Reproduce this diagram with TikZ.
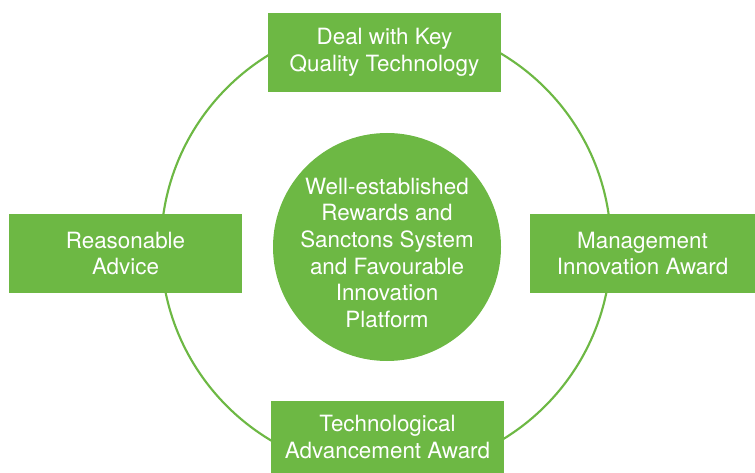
\documentclass[tikz,border=0pt]{standalone}
\usepackage{fontspec}
\setmainfont{TeX Gyre Heros}
\usepackage{xcolor}
\usepackage{tikz}
\usetikzlibrary{positioning, backgrounds}
\definecolor{leafgreen}{HTML}{6DB844}

\begin{document}
\begin{tikzpicture}[
  x=0.75pt, y=-0.75pt,
  every node/.style={text=white, font=\fontsize{16.8}{20}\selectfont, align=center, inner sep=0pt},
  awardbox/.style={rectangle, fill=leafgreen, minimum width=174.75pt, minimum height=59.25pt},
  hubdisc/.style={circle, fill=leafgreen, minimum size=171pt},
  ringline/.style={draw=leafgreen, line width=1.6pt}
]
  \useasboundingbox (0,0) rectangle (755,473);
  % outer ring behind everything
  \coordinate (ringc) at (386,247);
  \draw[ringline] (ringc) circle[radius=168.75pt];

  \node[hubdisc] (hub) at (387,247) {};
  \node (hubtext) at (387,253) {Well-established\\Rewards and\\Sanctons System\\and Favourable\\Innovation\\Platform};

  \node[awardbox] (quality) at (384.5,52.5) {Deal with Key\\Quality Technology};
  \node[awardbox] (advice) at (125.5,253.5) {Reasonable\\Advice};
  \node[awardbox, minimum width=168.75pt] (mgmt) at (642.5,253.5) {Management\\Innovation Award};
  \node[awardbox, minimum height=54pt] (techadv) at (387.5,437) {Technological\\Advancement Award};
\end{tikzpicture}
\end{document}
